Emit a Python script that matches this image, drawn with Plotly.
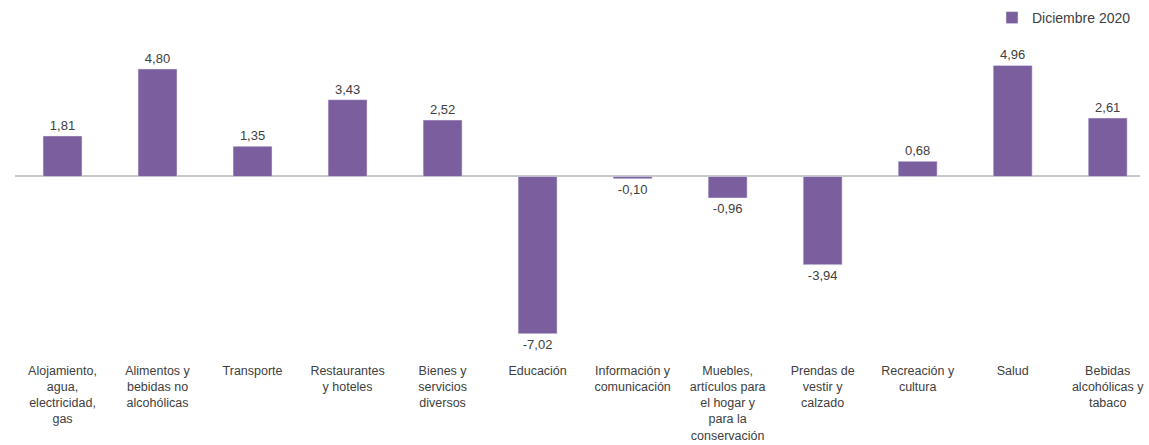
import plotly.graph_objects as go

categories = [
    "Alojamiento,<br>agua,<br>electricidad,<br>gas",
    "Alimentos y<br>bebidas no<br>alcohólicas",
    "Transporte",
    "Restaurantes<br>y hoteles",
    "Bienes y<br>servicios<br>diversos",
    "Educación",
    "Información y<br>comunicación",
    "Muebles,<br>artículos para<br>el hogar y<br>para la<br>conservación",
    "Prendas de<br>vestir y<br>calzado",
    "Recreación y<br>cultura",
    "Salud",
    "Bebidas<br>alcohólicas y<br>tabaco",
]
values = [1.81, 4.80, 1.35, 3.43, 2.52, -7.02, -0.10, -0.96, -3.94, 0.68, 4.96, 2.61]
series_name = "Diciembre 2020"

labels = [f"{v:.2f}".replace(".", ",") for v in values]

FONT = "Liberation Sans, Arial"

fig = go.Figure()
fig.add_trace(go.Bar(
    x=categories, y=values, name=series_name,
    marker=dict(color="#7B5E9E"),
    text=labels, textposition="outside",
    textfont=dict(family=FONT, size=13, color="#404040"),
    cliponaxis=False,
))

fig.update_layout(
    width=1149, height=445,
    margin=dict(l=15, r=9, t=30, b=88, autoexpand=False),
    plot_bgcolor="white", paper_bgcolor="white",
    bargap=0.59,
    showlegend=True,
    legend=dict(xref="container", yref="container",
                x=1136 / 1149, xanchor="right", y=1 - 18 / 445, yanchor="middle",
                font=dict(family=FONT, size=14, color="#404040"),
                bgcolor="rgba(0,0,0,0)", itemwidth=30),
    font=dict(family=FONT, size=13, color="#404040"),
)
fig.update_xaxes(range=[-0.5, 11.34], showgrid=False, showline=False, ticks="", tickangle=0,
                 ticklabelstandoff=4,
                 tickfont=dict(family=FONT, size=12.5, color="#404040"))
fig.update_yaxes(range=[-8.06, 6.54], showgrid=False, showticklabels=False,
                 zeroline=True, zerolinecolor="#C8C8C8", zerolinewidth=2)

fig.write_html("out.html", config={"displayModeBar": False})

with open("out.html", "r", encoding="utf-8") as f:
    html = f.read()
html = html.replace("<head>", "<head><style>html,body{margin:0;padding:0;overflow:hidden;}</style>", 1)
with open("out.html", "w", encoding="utf-8") as f:
    f.write(html)
